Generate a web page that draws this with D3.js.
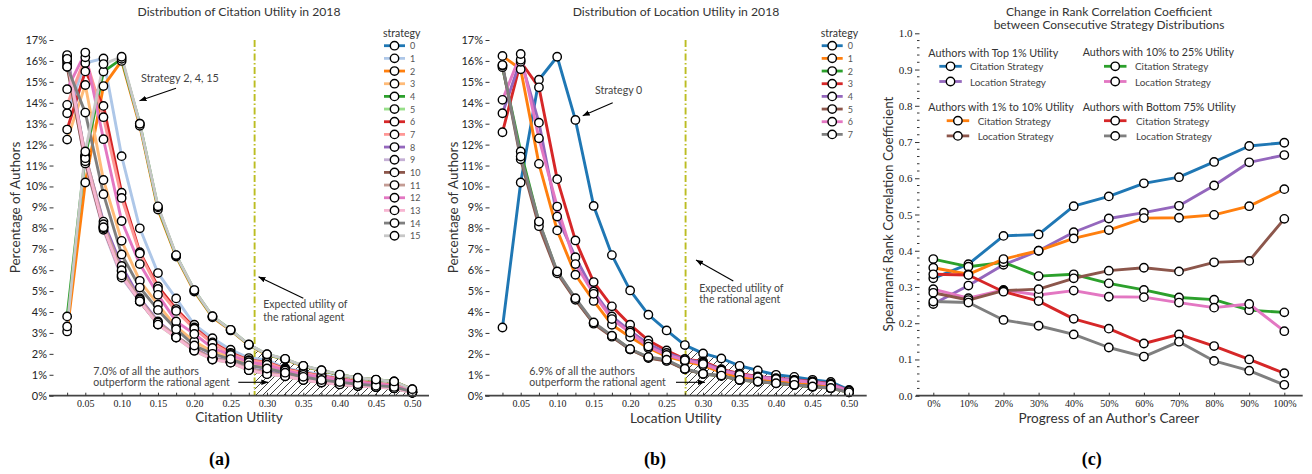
<!DOCTYPE html>
<html><head><meta charset="utf-8">
<script src="https://cdn.jsdelivr.net/npm/d3@7"></script>
<style>body{margin:0;background:#fff}svg{display:block}</style>
</head><body>
<svg id="chart" width="1312" height="474"></svg>
<script>
// ---------------- DATA ----------------
const utilityBins = [0.025,0.05,0.075,0.1,0.125,0.15,0.175,0.2,0.225,0.25,0.275,0.3,0.325,0.35,0.375,0.4,0.425,0.45,0.475,0.5];
const xTickLabels = [0.05,0.10,0.15,0.20,0.25,0.30,0.35,0.40,0.45,0.50];
const yPercentTicks = [0,1,2,3,4,5,6,7,8,9,10,11,12,13,14,15,16,17];

// (a) citation utility, percentage of authors per strategy 0..15
const citationNames = ["0","1","2","3","4","5","6","7","8","9","10","11","12","13","14","15"];
const citationSeries = [
  [16.12,11.30,8.10,5.95,4.55,3.45,2.82,2.20,1.78,1.62,1.27,1.10,0.98,0.78,0.65,0.56,0.48,0.43,0.37,0.15],
  [13.50,15.90,16.12,11.45,8.00,5.86,4.65,3.39,2.75,2.20,1.80,1.72,1.32,1.16,1.00,0.84,0.70,0.60,0.53,0.25],
  [3.07,10.19,14.80,16.00,12.90,8.90,6.65,4.98,3.75,3.12,2.42,1.95,1.74,1.40,1.20,1.00,0.84,0.76,0.67,0.30],
  [12.24,14.85,10.31,7.40,5.49,4.35,3.30,2.60,2.10,1.85,1.56,1.40,1.16,0.96,0.80,0.68,0.58,0.50,0.44,0.20],
  [3.79,11.46,15.49,16.10,13.00,9.00,6.70,5.03,3.79,3.15,2.44,1.97,1.75,1.42,1.21,1.00,0.85,0.76,0.68,0.30],
  [16.20,11.40,8.05,5.70,4.52,3.40,2.78,2.15,1.73,1.58,1.22,1.03,0.93,0.75,0.63,0.54,0.46,0.41,0.35,0.14],
  [12.72,15.50,13.85,9.70,6.86,5.22,4.14,3.26,2.55,2.05,1.70,1.60,1.28,1.10,0.95,0.80,0.68,0.58,0.50,0.22],
  [13.90,16.17,13.31,9.45,6.80,5.10,4.05,3.20,2.50,2.00,1.68,1.58,1.25,1.08,0.93,0.78,0.66,0.57,0.49,0.22],
  [16.28,11.46,8.32,6.20,4.66,3.55,2.85,2.25,1.80,1.65,1.30,1.15,1.00,0.80,0.66,0.58,0.50,0.44,0.38,0.16],
  [15.88,11.10,7.93,5.65,4.50,3.42,2.80,2.18,1.75,1.60,1.24,1.05,0.95,0.76,0.64,0.55,0.47,0.42,0.36,0.15],
  [15.72,11.20,8.00,5.80,4.50,3.45,2.83,2.20,1.76,1.60,1.25,1.06,0.96,0.77,0.64,0.55,0.47,0.42,0.36,0.15],
  [16.00,11.50,8.20,6.00,4.60,3.50,2.85,2.22,1.78,1.63,1.28,1.10,0.97,0.78,0.65,0.56,0.48,0.43,0.37,0.16],
  [14.65,16.40,12.26,8.35,6.29,4.82,3.55,2.95,2.28,1.95,1.60,1.48,1.20,1.00,0.90,0.75,0.64,0.55,0.48,0.20],
  [16.10,11.35,8.05,5.75,4.52,3.40,2.78,2.15,1.73,1.58,1.22,1.03,0.93,0.75,0.63,0.54,0.46,0.41,0.35,0.14],
  [15.72,13.53,9.63,6.75,5.17,4.10,3.18,2.40,2.00,1.75,1.45,1.30,1.10,0.90,0.75,0.65,0.55,0.48,0.42,0.18],
  [3.31,11.67,15.85,16.20,13.00,9.05,6.72,5.05,3.80,3.15,2.45,1.98,1.76,1.43,1.22,1.01,0.86,0.77,0.68,0.31]
];
const citationColors = ["#1f77b4","#aec7e8","#ff7f0e","#ffbb78","#2ca02c","#98df8a","#d62728","#ff9896","#9467bd","#c5b0d5","#8c564b","#c49c94","#e377c2","#f7b6d2","#7f7f7f","#c7c7c7"];
const citationRational = 0.283;

// (b) location utility, percentage of authors per strategy 0..7
const locationNames = ["0","1","2","3","4","5","6","7"];
const locationSeries = [
  [3.26,10.19,15.10,16.20,13.18,9.07,6.72,5.03,3.87,3.12,2.42,2.02,1.78,1.43,1.21,1.00,0.90,0.76,0.66,0.28],
  [16.24,15.60,11.08,7.90,5.78,4.53,3.39,2.80,2.28,1.88,1.64,1.45,1.11,0.89,0.80,0.68,0.60,0.52,0.48,0.20],
  [15.70,11.67,8.30,5.90,4.62,3.47,2.85,2.22,1.82,1.68,1.27,1.04,0.95,0.75,0.67,0.59,0.51,0.43,0.36,0.16],
  [12.59,15.96,14.74,10.35,7.42,5.43,4.27,3.39,2.64,2.16,1.75,1.64,1.27,1.05,0.92,0.84,0.76,0.68,0.57,0.24],
  [13.50,16.06,13.05,8.56,6.62,4.98,3.79,3.10,2.48,2.04,1.75,1.58,1.24,1.02,0.90,0.82,0.74,0.66,0.55,0.23],
  [15.78,11.30,8.10,5.85,4.58,3.44,2.82,2.21,1.80,1.66,1.26,1.04,0.95,0.75,0.67,0.59,0.51,0.43,0.36,0.16],
  [14.14,16.33,12.30,9.04,6.29,4.87,3.66,3.02,2.35,1.95,1.70,1.52,1.20,1.00,0.88,0.80,0.72,0.64,0.53,0.22],
  [15.81,11.43,8.32,5.94,4.66,3.50,2.87,2.23,1.85,1.72,1.29,1.05,0.96,0.76,0.68,0.60,0.52,0.44,0.37,0.16]
];
const locationColors = ["#1f77b4","#ff7f0e","#2ca02c","#d62728","#9467bd","#8c564b","#e377c2","#7f7f7f"];
const locationRational = 0.276;

// (c) rank correlation between consecutive strategy distributions
const careerProgress = [0,10,20,30,40,50,60,70,80,90,100];
const corrTicks = [0,0.1,0.2,0.3,0.4,0.5,0.6,0.7,0.8,0.9,1.0];
const top1Citation   = [0.324,0.363,0.441,0.445,0.523,0.550,0.586,0.603,0.645,0.689,0.698];
const top1Location   = [0.253,0.304,0.361,0.400,0.451,0.489,0.505,0.524,0.580,0.644,0.664];
const mid10Citation  = [0.377,0.356,0.368,0.330,0.335,0.310,0.292,0.271,0.265,0.236,0.230];
const mid10Location  = [0.294,0.269,0.292,0.278,0.290,0.273,0.272,0.257,0.243,0.253,0.178];
const top10Citation  = [0.353,0.335,0.377,0.400,0.434,0.457,0.490,0.491,0.499,0.523,0.570];
const top10Location  = [0.284,0.264,0.290,0.294,0.324,0.345,0.353,0.343,0.368,0.372,0.488];
const bottomCitation = [0.335,0.333,0.287,0.261,0.212,0.185,0.144,0.169,0.137,0.100,0.062];
const bottomLocation = [0.260,0.257,0.209,0.193,0.169,0.133,0.108,0.149,0.096,0.069,0.030];
const corrGroups = ["Authors with Top 1% Utility","Authors with 10% to 25% Utility","Authors with 1% to 10% Utility","Authors with Bottom 75% Utility"];

// ---------------- DRAWING ----------------
const SANS = 'Lato, "Open Sans", "DejaVu Sans", sans-serif';
const SERIF = '"Liberation Serif", "DejaVu Serif", serif';
const svg = d3.select("#chart");
const defs = svg.append("defs");
defs.append("pattern").attr("id","hatch").attr("patternUnits","userSpaceOnUse")
  .attr("width",7).attr("height",7)
  .append("path").attr("d","M-1,1 l2,-2 M0,7 l7,-7 M6,8 l2,-2")
  .attr("stroke","#111").attr("stroke-width",0.8);
defs.append("marker").attr("id","arrow").attr("viewBox","0 0 10 10")
  .attr("refX",10).attr("refY",5).attr("markerWidth",7).attr("markerHeight",7)
  .attr("markerUnits","userSpaceOnUse").attr("orient","auto")
  .append("path").attr("d","M0,1 L10,5 L0,9 z").attr("fill","#000");

function fit(sel, w){
  const n = sel.node(); const l = n.getComputedTextLength();
  const fs = parseFloat(sel.attr("font-size"));
  if (l>0) sel.attr("font-size", (fs*w/l).toFixed(2));
  return sel;
}
function label(x,y,txt,opts){
  const t = svg.append("text").attr("x",x).attr("y",y).text(txt)
    .attr("font-family",opts.font||SANS).attr("font-size",opts.size||12)
    .attr("fill",opts.fill||"#333").attr("text-anchor",opts.anchor||"middle")
    .attr("dominant-baseline","central");
  if (opts.weight) t.attr("font-weight",opts.weight);
  if (opts.rotate) t.attr("transform",`rotate(-90,${x},${y})`);
  if (opts.w) fit(t,opts.w);
  return t;
}
function arrow(x1,y1,x2,y2){
  svg.append("line").attr("x1",x1).attr("y1",y1).attr("x2",x2).attr("y2",y2)
    .attr("stroke","#000").attr("stroke-width",1.1).attr("marker-end","url(#arrow)");
}

function distPanel(cfg){
  const x = d3.scaleLinear().domain([0.05,0.5]).range(cfg.xr);
  const y = d3.scaleLinear().domain([0,17]).range([395.7,40]);
  const g = svg.append("g");
  // hatch under envelope right of the rational line
  const env = utilityBins.map((u,i)=>d3.max(cfg.series,s=>s[i]));
  let k = utilityBins.findIndex(u=>u>cfg.rational);
  const t = (cfg.rational-utilityBins[k-1])/(utilityBins[k]-utilityBins[k-1]);
  const pts = [[cfg.rational, env[k-1]+(env[k]-env[k-1])*t]];
  for (let i=k;i<utilityBins.length;i++) pts.push([utilityBins[i],env[i]]);
  g.append("path").attr("d", d3.area().x(d=>x(d[0])).y0(y(0)).y1(d=>y(d[1]))(pts))
    .attr("fill","url(#hatch)").attr("stroke","none");
  // rational line
  g.append("line").attr("x1",x(cfg.rational)).attr("x2",x(cfg.rational))
    .attr("y1",y(17)).attr("y2",y(0)).attr("stroke","#bcbd22").attr("stroke-width",1.9)
    .attr("stroke-dasharray","7,2.5,1.5,2.5");
  // lines
  const line = d3.line().x((d,i)=>x(utilityBins[i])).y(d=>y(d));
  cfg.series.forEach((s,j)=>{
    g.append("path").attr("d",line(s)).attr("fill","none")
      .attr("stroke",cfg.colors[j]).attr("stroke-width",2.9).attr("stroke-linejoin","round");
  });
  cfg.series.forEach((s,j)=>{
    g.selectAll(null).data(s).join("circle")
      .attr("cx",(d,i)=>x(utilityBins[i])).attr("cy",d=>y(d)).attr("r",4.2)
      .attr("fill","#fff").attr("stroke","#000").attr("stroke-width",1.4);
  });
  // spine
  g.append("line").attr("x1",cfg.spine[0]).attr("x2",cfg.spine[1])
    .attr("y1",y(0)).attr("y2",y(0)).attr("stroke","#444").attr("stroke-width",1.8);
  // y axis
  const ya = g.append("g").attr("transform",`translate(${cfg.yAxisX},0)`)
    .call(d3.axisLeft(y).tickValues(yPercentTicks).tickFormat(d=>d+"%").tickSize(4).tickPadding(2.5));
  ya.select(".domain").remove();
  ya.selectAll("line").attr("stroke","#333");
  ya.selectAll("text").attr("font-family",SANS).attr("font-size",11).attr("fill","#222");
  // x axis
  const lab = new Set(xTickLabels.map(v=>v.toFixed(2)));
  const xa = g.append("g").attr("transform",`translate(0,${y(0)})`)
    .call(d3.axisBottom(x).tickValues(utilityBins).tickSize(-3).tickPadding(4)
      .tickFormat(d=>lab.has(d.toFixed(2))?d.toFixed(2):""));
  xa.select(".domain").remove();
  xa.selectAll("line").attr("stroke","#333");
  xa.selectAll("text").attr("font-family",SERIF).attr("font-size",10).attr("fill","#222");
  // legend
  label(cfg.leg.x-1, 33, "strategy", {anchor:"start", size:10.5, fill:"#333"});
  cfg.names.forEach((n,j)=>{
    const yy = 45.7 + j*12.67;
    g.append("line").attr("x1",cfg.leg.x).attr("x2",cfg.leg.x+21).attr("y1",yy).attr("y2",yy)
      .attr("stroke",cfg.colors[j]).attr("stroke-width",2.8);
    g.append("circle").attr("cx",cfg.leg.x+10.5).attr("cy",yy).attr("r",4.2)
      .attr("fill","#fff").attr("stroke","#000").attr("stroke-width",1.4);
    label(cfg.leg.x+26, yy, n, {anchor:"start", size:9, fill:"#555"});
  });
}

// Panel (a)
distPanel({xr:[85.3,412.3], spine:[49,429], yAxisX:53.5, series:citationSeries,
  colors:citationColors, names:citationNames, rational:citationRational, leg:{x:384}});
label(239, 11, "Distribution of Citation Utility in 2018", {size:12, w:203});
label(15, 207.5, "Percentage of Authors", {size:13, rotate:true, w:131.6});
label(239, 417.3, "Citation Utility", {size:13, w:87.7});
label(219.5, 459.3, "(a)", {font:SERIF, size:18, weight:"bold", fill:"#000"});
label(141, 77, "Strategy 2, 4, 15", {anchor:"start", size:11, fill:"#444", w:78});
arrow(176, 88.3, 139.5, 100.7);
label(263.3, 304.3, "Expected utility of", {anchor:"start", size:11, fill:"#444", w:84.3});
label(263.3, 316.7, "the rational agent", {anchor:"start", size:11, fill:"#444", w:81});
arrow(303.3, 298.3, 258.5, 276.7);
label(93.3, 370.7, "7.0% of all the authors", {anchor:"start", size:11, fill:"#444", w:105.7});
label(93.3, 382.3, "outperform the rational agent", {anchor:"start", size:11, fill:"#444", w:136.7});
arrow(238.3, 382.3, 268.3, 382.3);

// Panel (b)
distPanel({xr:[520.7,849], spine:[485,866.7], yAxisX:489.5, series:locationSeries,
  colors:locationColors, names:locationNames, rational:locationRational, leg:{x:821.7}});
label(676, 11, "Distribution of Location Utility in 2018", {size:12, w:206.7});
label(452.7, 207.5, "Percentage of Authors", {size:13, rotate:true, w:131.6});
label(675.8, 417.3, "Location Utility", {size:13, w:91.7});
label(655, 459.3, "(b)", {font:SERIF, size:18, weight:"bold", fill:"#000"});
label(595, 89.7, "Strategy 0", {anchor:"start", size:11, fill:"#444", w:47.3});
arrow(612.7, 102.7, 582.7, 115.7);
label(699.3, 287.7, "Expected utility of", {anchor:"start", size:11, fill:"#444", w:84.3});
label(699.3, 299.3, "the rational agent", {anchor:"start", size:11, fill:"#444", w:81});
arrow(733.3, 281, 696, 260);
label(529.3, 370.7, "6.9% of all the authors", {anchor:"start", size:11, fill:"#444", w:105.7});
label(529.3, 382.3, "outperform the rational agent", {anchor:"start", size:11, fill:"#444", w:136.7});
arrow(676, 382.3, 705, 382.3);

// Panel (c)
(function(){
  const x = d3.scaleLinear().domain([0,100]).range([933.3,1284.3]);
  const y = d3.scaleLinear().domain([0,1]).range([395.7,33.3]);
  const g = svg.append("g");
  const series = [
    {v:top1Citation,c:"#1f77b4"},{v:top1Location,c:"#9467bd"},
    {v:mid10Citation,c:"#2ca02c"},{v:mid10Location,c:"#e377c2"},
    {v:top10Citation,c:"#ff7f0e"},{v:top10Location,c:"#8c564b"},
    {v:bottomCitation,c:"#d62728"},{v:bottomLocation,c:"#7f7f7f"}
  ];
  const line = d3.line().x((d,i)=>x(careerProgress[i])).y(d=>y(d));
  series.forEach(s=>g.append("path").attr("d",line(s.v)).attr("fill","none")
    .attr("stroke",s.c).attr("stroke-width",2.9).attr("stroke-linejoin","round"));
  series.forEach(s=>g.selectAll(null).data(s.v).join("circle")
    .attr("cx",(d,i)=>x(careerProgress[i])).attr("cy",d=>y(d)).attr("r",4.2)
    .attr("fill","#fff").attr("stroke","#000").attr("stroke-width",1.4));
  g.append("line").attr("x1",916).attr("x2",1302.7).attr("y1",y(0)).attr("y2",y(0))
    .attr("stroke","#444").attr("stroke-width",1.8);
  const ya = g.append("g").attr("transform","translate(919.5,0)")
    .call(d3.axisLeft(y).tickValues(corrTicks).tickFormat(d3.format(".1f")).tickSize(4.5).tickPadding(2.5));
  ya.select(".domain").remove();
  ya.selectAll("line").attr("stroke","#333");
  ya.selectAll("text").attr("font-family",SERIF).attr("font-size",11).attr("fill","#222");
  const minor = d3.range(0,51).map(i=>i/50).filter(v=>Math.round(v*50)%5!==0);
  g.selectAll(null).data(minor).join("line").attr("x1",917).attr("x2",919.5)
    .attr("y1",d=>y(d)).attr("y2",d=>y(d)).attr("stroke","#333").attr("stroke-width",1);
  const xa = g.append("g").attr("transform",`translate(0,${y(0)})`)
    .call(d3.axisBottom(x).tickValues(careerProgress).tickFormat(d=>d+"%").tickSize(-3).tickPadding(4));
  xa.select(".domain").remove();
  xa.selectAll("line").attr("stroke","#333");
  xa.selectAll("text").attr("font-family",SERIF).attr("font-size",10).attr("fill","#222");
  // legend
  const legPos = [
    {hx:928.3, hy:52.3, lx:939.3, tx:970},
    {hx:1082.7, hy:52.3, lx:1104, tx:1135},
    {hx:928.3, hy:106.7, lx:946.7, tx:977.7},
    {hx:1082.7, hy:106.7, lx:1104, tx:1136}
  ];
  const hw = [130,151.3,145.7,153.3];
  corrGroups.forEach((name,gi)=>{
    const p = legPos[gi];
    label(p.hx, p.hy, name, {anchor:"start", size:11, fill:"#333", w:hw[gi]});
    ["Citation Strategy","Location Strategy"].forEach((t,k)=>{
      const yy = p.hy + 14 + k*15.2;
      const s = series[gi*2+k];
      g.append("line").attr("x1",p.lx).attr("x2",p.lx+22.5).attr("y1",yy).attr("y2",yy)
        .attr("stroke",s.c).attr("stroke-width",2.8);
      g.append("circle").attr("cx",p.lx+11.2).attr("cy",yy).attr("r",4.2)
        .attr("fill","#fff").attr("stroke","#000").attr("stroke-width",1.4);
      label(p.tx, yy, t, {anchor:"start", size:10.5, fill:"#444", w: k===0?73.3:76});
    });
  });
})();
label(1109, 11, "Change in Rank Correlation Coefficient", {size:12, w:206.3});
label(1109, 24.7, "between Consecutive Strategy Distributions", {size:12, w:230.7});
label(888.3, 214, "Spearmanś Rank Correlation Coefficient", {size:13, rotate:true, w:235});
label(1108.8, 417.7, "Progress of an Author's Career", {size:13, w:181});
label(1091.7, 459.3, "(c)", {font:SERIF, size:18, weight:"bold", fill:"#000"});
</script>
</body></html>
